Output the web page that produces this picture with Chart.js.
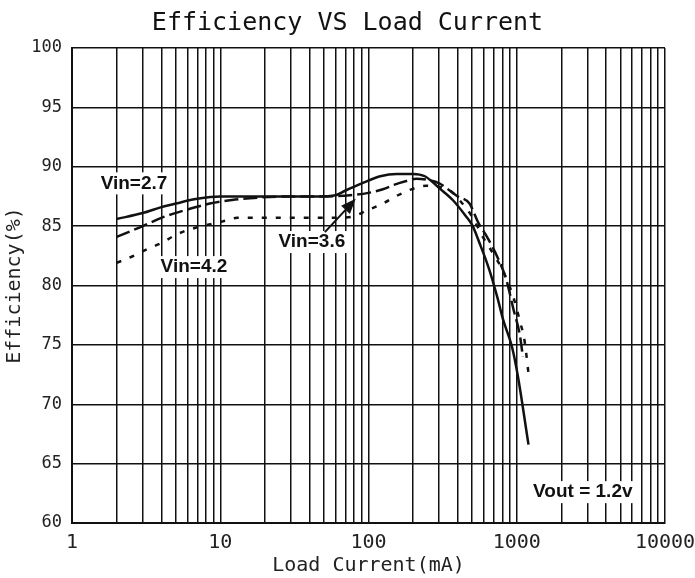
<!DOCTYPE html>
<html>
<head>
<meta charset="utf-8">
<script src="https://cdn.jsdelivr.net/npm/chart.js@4/dist/chart.umd.min.js"></script>
<style>
    html, body { margin: 0; padding: 0; background: #fff; }
    #wrap { width: 695px; height: 578px; }
</style>
</head>
<body>
<div id="wrap"><canvas id="canva"></canvas></div>
<script>
// x axis (log) tick positions
const decades = [1, 10, 100, 1000, 10000];
const minorSteps = [2, 3, 4, 5, 6, 7, 8, 9];
const yTicks = [60, 65, 70, 75, 80, 85, 90, 95, 100];

// Vin = 2.7 (solid)
const vin27Current = [2, 3, 4, 5, 7, 10, 15, 20, 30, 45, 60, 70, 90, 120, 155, 200, 240, 300, 370, 450, 500, 560, 650, 740, 810, 930, 1020, 1200];
const vin27Eff = [85.6, 86.1, 86.6, 86.9, 87.3, 87.5, 87.5, 87.5, 87.5, 87.5, 87.6, 88.0, 88.6, 89.2, 89.4, 89.4, 89.2, 88.2, 87.2, 85.9, 85.1, 83.6, 81.4, 79.0, 77.1, 74.8, 72.3, 66.6];

// Vin = 3.6 (dashed)
const vin36Current = [2, 3, 4, 6, 8.5, 12, 18, 30, 50, 75, 100, 125, 150, 180, 210, 250, 300, 400, 480, 550, 630, 740, 850, 950, 1050, 1100];
const vin36Eff = [84.1, 85.0, 85.7, 86.4, 86.9, 87.2, 87.4, 87.5, 87.5, 87.6, 87.8, 88.1, 88.5, 88.8, 89.0, 88.9, 88.6, 87.5, 86.9, 85.3, 84.1, 82.4, 80.5, 78.0, 75.8, 74.0];

// Vin = 4.2 (dotted)
const vin42Current = [2, 2.6, 3.25, 4.05, 4.9, 5.8, 7, 8.8, 10.4, 13, 20, 40, 60, 78, 97, 125, 158, 195, 245, 300, 355, 410, 500, 590, 700, 810, 950, 1050, 1130, 1200];
const vin42Eff = [81.9, 82.5, 83.1, 83.6, 84.2, 84.6, 84.9, 85.2, 85.4, 85.7, 85.7, 85.7, 85.7, 85.8, 86.3, 86.9, 87.6, 88.1, 88.4, 88.3, 88.0, 87.2, 85.8, 84.1, 82.6, 81.2, 79.0, 77.0, 75.3, 72.6];

const toPoints = (xs, ys) => xs.map((x, i) => ({ x: x, y: ys[i] }));

const xTickValues = [];
decades.forEach((d, i) => {
    xTickValues.push(d);
    if (i < decades.length - 1) minorSteps.forEach((m) => xTickValues.push(d * m));
});

const monoFont = '"DejaVu Sans Mono", "Liberation Mono", monospace';

// text notes drawn on the plot, placed in data units
const notes = [
    { text: 'Vin=2.7', x: 2.62, y: 88.6 },
    { text: 'Vin=4.2', x: 6.65, y: 81.55 },
    { text: 'Vin=3.6', x: 41.5, y: 83.66 },
    { text: 'Vout = 1.2v', x: 2790, y: 62.6 },
];

const notesPlugin = {
    id: 'notes',
    beforeDatasetsDraw(chart) {
        const { ctx, scales: { x, y } } = chart;
        ctx.save();
        ctx.font = 'bold 19px "Liberation Sans", Arial, sans-serif';
        notes.forEach((n) => {
            const px = x.getPixelForValue(n.x);
            const py = y.getPixelForValue(n.y);
            const w = ctx.measureText(n.text).width;
            ctx.fillStyle = '#fff';
            ctx.fillRect(px - w / 2 - 3, py - 11, w + 6, 22);
        });
        ctx.restore();
    },
    afterDatasetsDraw(chart) {
        const { ctx, scales: { x, y } } = chart;
        ctx.save();
        ctx.font = 'bold 19px "Liberation Sans", Arial, sans-serif';
        ctx.textAlign = 'center';
        ctx.textBaseline = 'middle';
        ctx.fillStyle = '#111';
        notes.forEach((n) => {
            ctx.fillText(n.text, x.getPixelForValue(n.x), y.getPixelForValue(n.y));
        });

        // arrow from the Vin=3.6 label to its curve
        const x0 = x.getPixelForValue(50.8), y0 = y.getPixelForValue(84.5);
        const x1 = x.getPixelForValue(82), y1 = y.getPixelForValue(87.3);
        const ang = Math.atan2(y1 - y0, x1 - x0);
        const hl = 15, hw = 6;
        const bx = x1 - hl * Math.cos(ang), by = y1 - hl * Math.sin(ang);
        ctx.strokeStyle = '#111';
        ctx.lineWidth = 2;
        ctx.beginPath();
        ctx.moveTo(x0, y0);
        ctx.lineTo(bx, by);
        ctx.stroke();
        ctx.beginPath();
        ctx.moveTo(x1, y1);
        ctx.lineTo(bx + hw * Math.sin(ang), by - hw * Math.cos(ang));
        ctx.lineTo(bx - hw * Math.sin(ang), by + hw * Math.cos(ang));
        ctx.closePath();
        ctx.fill();
        ctx.restore();
    },
};

const lineStyle = {
    borderColor: '#111',
    borderWidth: 2.5,
    pointRadius: 0,
    fill: false,
    cubicInterpolationMode: 'monotone',
    borderCapStyle: 'butt',
};

new Chart(document.querySelector('#canva').getContext('2d'), {
    type: 'line',
    data: {
        datasets: [
            { ...lineStyle, label: 'Vin=2.7', data: toPoints(vin27Current, vin27Eff) },
            { ...lineStyle, label: 'Vin=3.6', data: toPoints(vin36Current, vin36Eff), borderDash: [14, 5] },
            { ...lineStyle, label: 'Vin=4.2', data: toPoints(vin42Current, vin42Eff), borderDash: [5, 9] },
        ],
    },
    options: {
        responsive: true,
        maintainAspectRatio: false,
        animation: false,
        devicePixelRatio: 1,
        layout: { padding: 0 },
        plugins: {
            legend: { display: false },
            tooltip: { enabled: false },
            title: {
                display: true,
                text: 'Efficiency VS Load Current',
                color: '#111',
                font: { family: monoFont, size: 25, weight: 'normal' },
                padding: { top: 8, bottom: 10 },
            },
        },
        scales: {
            x: {
                type: 'logarithmic',
                min: 1,
                max: 10000,
                afterBuildTicks: (scale) => {
                    scale.ticks = xTickValues.map((v) => ({ value: v }));
                },
                afterFit: (scale) => {
                    scale.height = 55;
                    scale.paddingRight = 30;
                },
                ticks: {
                    autoSkip: false,
                    maxRotation: 0,
                    padding: 8,
                    color: '#222',
                    font: { family: monoFont, size: 20 },
                    callback: (v) => (decades.includes(v) ? String(v) : ''),
                },
                grid: { color: '#111', lineWidth: 1.5, drawTicks: false },
                border: { color: '#111', width: 2 },
                title: {
                    display: true,
                    text: 'Load Current(mA)',
                    color: '#222',
                    font: { family: monoFont, size: 20 },
                    padding: { top: 0, bottom: 0 },
                },
            },
            y: {
                min: 60,
                max: 100,
                afterBuildTicks: (scale) => {
                    scale.ticks = yTicks.map((v) => ({ value: v }));
                },
                afterFit: (scale) => { scale.width = 72; },
                ticks: {
                    padding: 10,
                    color: '#222',
                    font: { family: monoFont, size: 17 },
                },
                grid: { color: '#111', lineWidth: 1.5, drawTicks: false },
                border: { color: '#111', width: 2 },
                title: {
                    display: true,
                    text: 'Efficiency(%)',
                    color: '#222',
                    font: { family: monoFont, size: 20 },
                    padding: { top: 3, bottom: 0 },
                },
            },
        },
    },
    plugins: [notesPlugin],
});
</script>
</body>
</html>
